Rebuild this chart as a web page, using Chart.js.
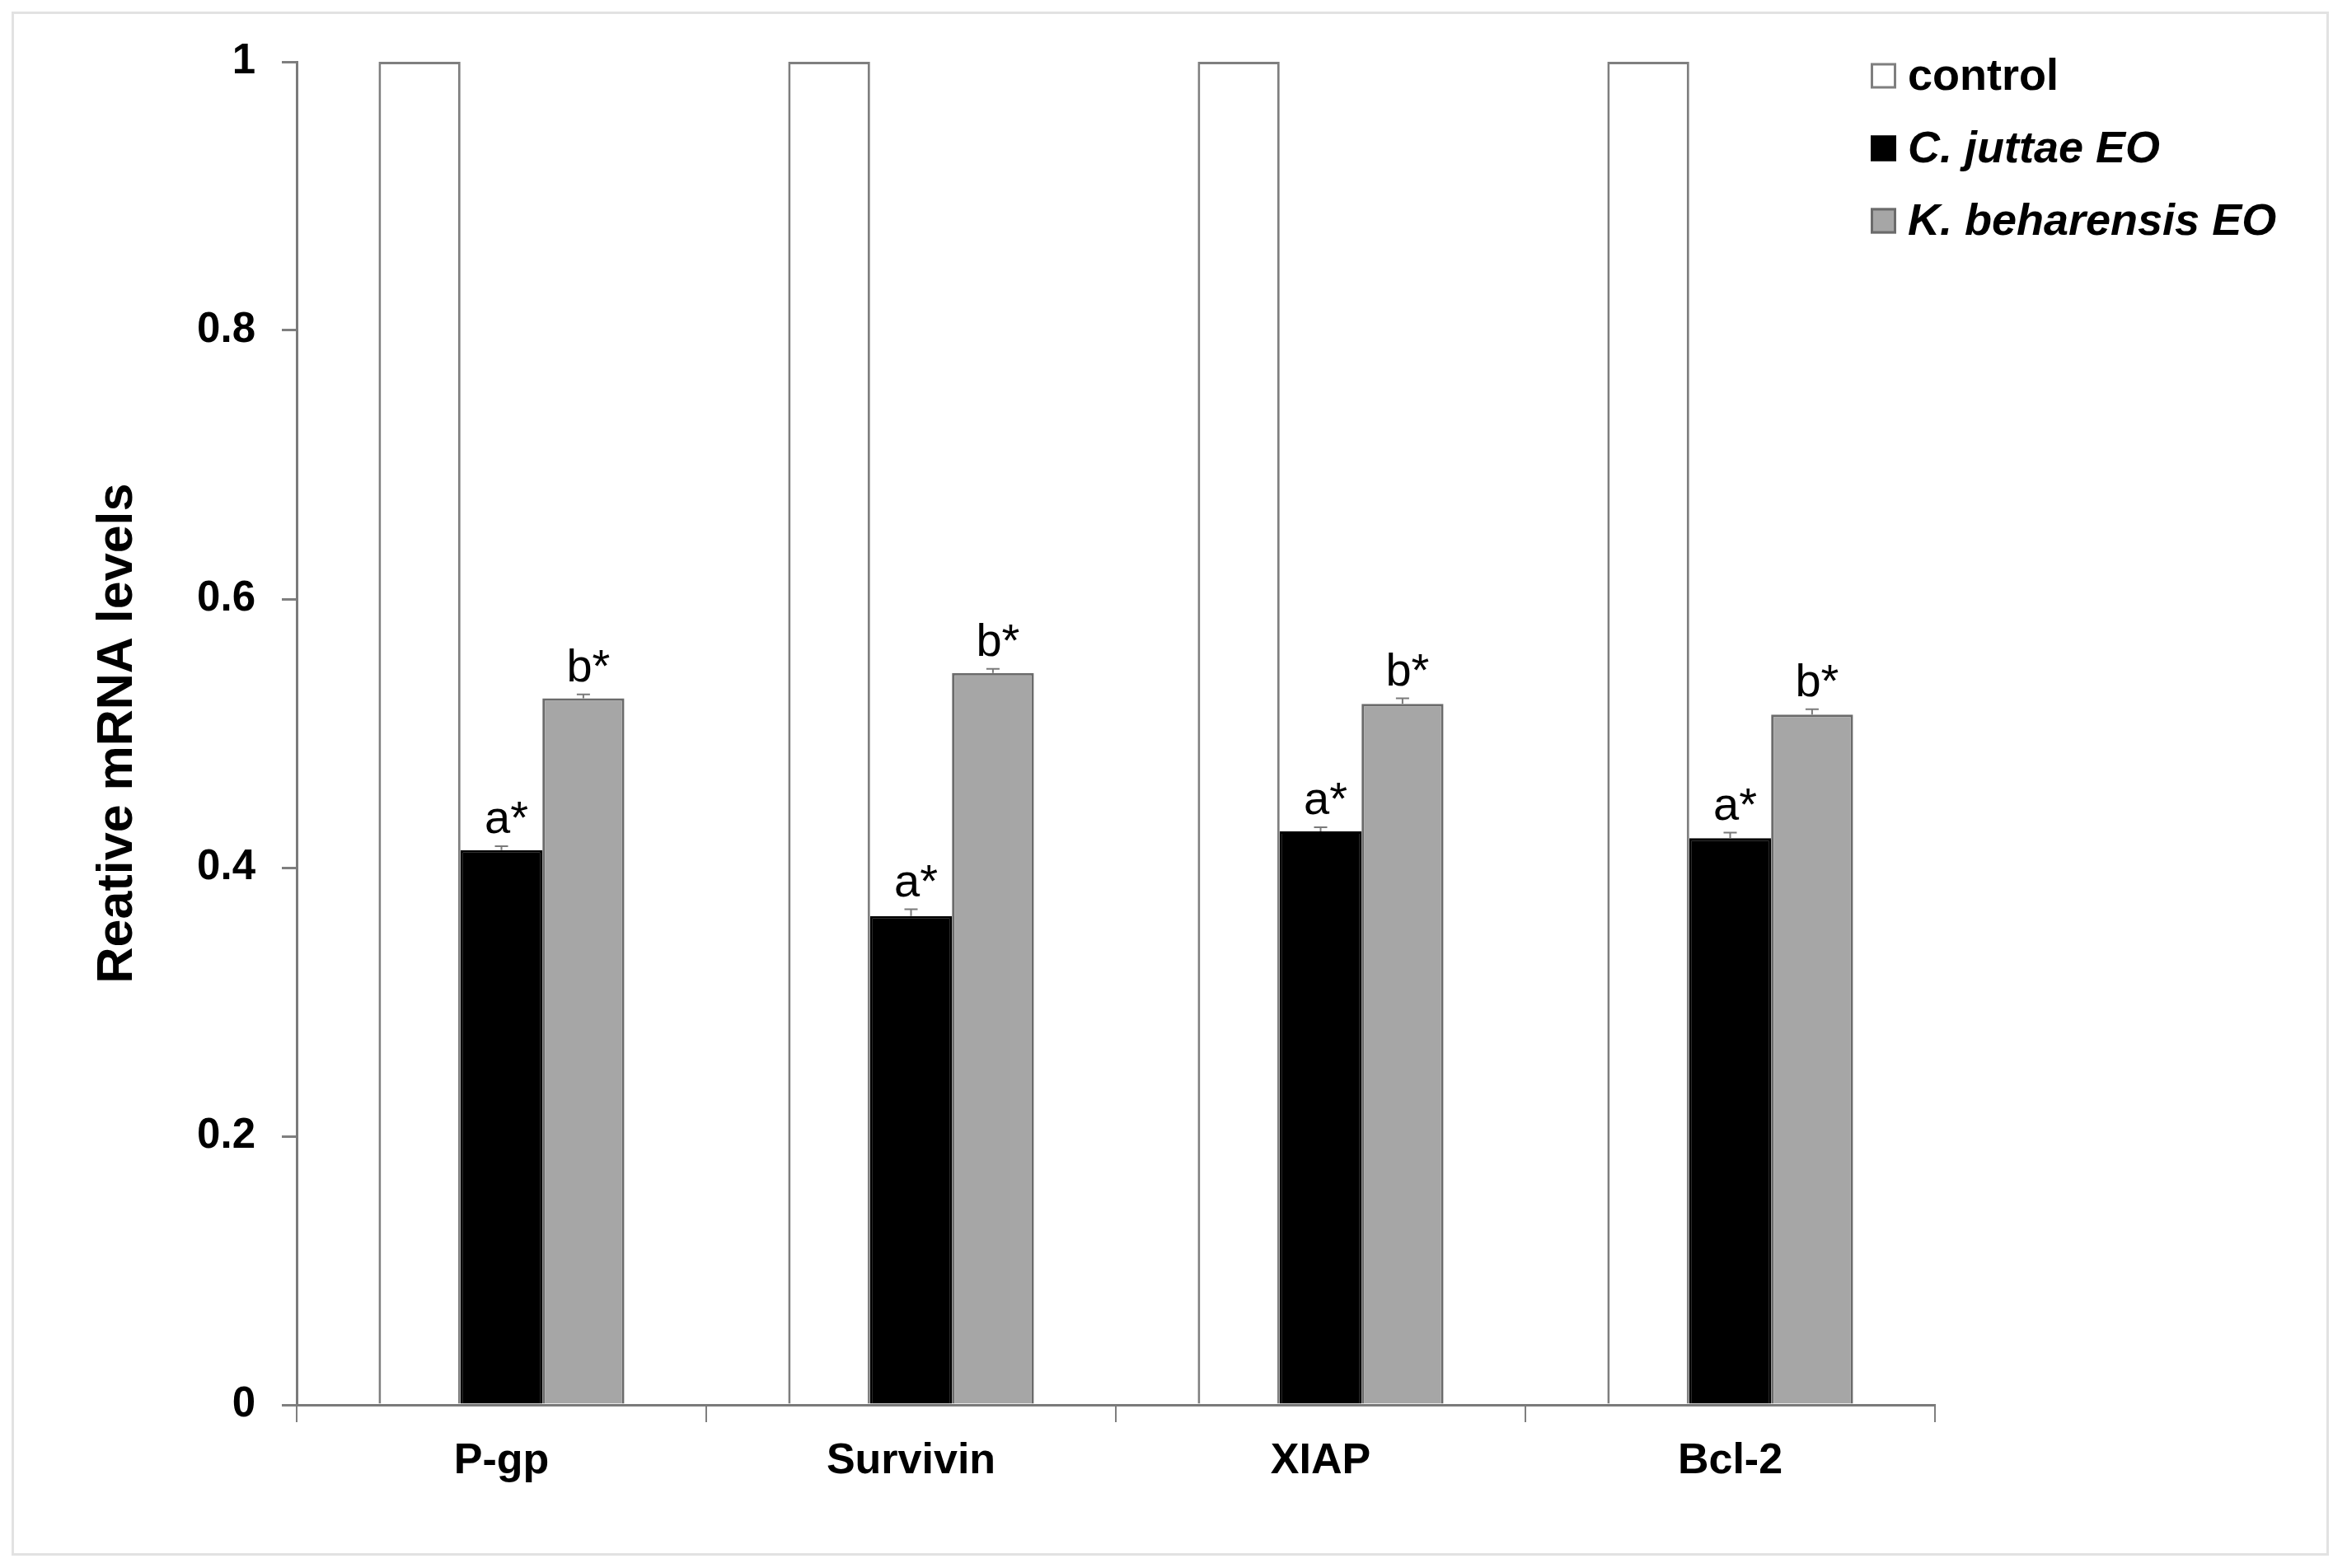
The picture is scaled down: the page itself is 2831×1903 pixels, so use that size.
<!DOCTYPE html>
<html>
<head>
<meta charset="utf-8">
<script src="https://cdn.jsdelivr.net/npm/chart.js@4.4.1/dist/chart.umd.min.js"></script>
<style>
  html, body { margin: 0; padding: 0; background: #fff; }
  #wrap { position: relative; width: 2831px; height: 1903px; }
  #frame { position: absolute; left: 14px; top: 14px; width: 2806px; height: 1868px;
           border: 3px solid #e2e2e2; pointer-events: none; }
</style>
</head>
<body>
<div id="wrap">
  <canvas id="myChart" width="2831" height="1903"></canvas>
  <div id="frame"></div>
</div>
<script>
// chart values
const genes = ['P-gp', 'Survivin', 'XIAP', 'Bcl-2'];
const seriesNames = ['control', 'C. juttae EO', 'K. beharensis EO'];
const control = [1, 1, 1, 1];
const cJuttae = [0.413, 0.364, 0.427, 0.422];
const kBeharensis = [0.526, 0.545, 0.522, 0.514];
const controlErr = [0, 0, 0, 0];
const cJuttaeErr = [0.003, 0.005, 0.003, 0.004];
const kBeharensisErr = [0.003, 0.003, 0.004, 0.004];
const controlMarks = ['', '', '', ''];
const cJuttaeMarks = ['a*', 'a*', 'a*', 'a*'];
const kBeharensisMarks = ['b*', 'b*', 'b*', 'b*'];
const yTicks = [0, 0.2, 0.4, 0.6, 0.8, 1];

const FONT = '"Liberation Sans", Arial, sans-serif';
const errors = [controlErr, cJuttaeErr, kBeharensisErr];
const marks = [controlMarks, cJuttaeMarks, kBeharensisMarks];

// error bars and the a*/b* letters above the bars
const barExtras = {
  id: 'barExtras',
  afterDatasetsDraw(chart) {
    const ctx = chart.ctx;
    const y = chart.scales.y;
    chart.data.datasets.forEach((ds, i) => {
      const meta = chart.getDatasetMeta(i);
      meta.data.forEach((bar, j) => {
        const v = ds.data[j];
        const err = errors[i][j];
        ctx.save();
        if (err > 0) {
          const yTop = y.getPixelForValue(v + err);
          ctx.strokeStyle = '#7a7a7a';
          ctx.lineWidth = 2;
          ctx.beginPath();
          ctx.moveTo(bar.x, bar.y);
          ctx.lineTo(bar.x, yTop);
          ctx.moveTo(bar.x - 8, yTop);
          ctx.lineTo(bar.x + 8, yTop);
          ctx.stroke();
        }
        const m = marks[i][j];
        if (m) {
          ctx.fillStyle = '#000';
          ctx.font = '56px ' + FONT;
          ctx.textAlign = 'center';
          ctx.textBaseline = 'alphabetic';
          ctx.fillText(m, bar.x + 6, y.getPixelForValue(v + err) - 16);
        }
        ctx.restore();
      });
    });
  }
};

// legend drawn by hand so two of the entries can be italic
const sideLegend = {
  id: 'sideLegend',
  afterDraw(chart) {
    const ctx = chart.ctx;
    const x0 = 2270, rowY = [92, 180, 268], box = 31;
    chart.data.datasets.forEach((ds, i) => {
      ctx.save();
      ctx.fillStyle = ds.backgroundColor;
      ctx.strokeStyle = ds.borderColor;
      ctx.lineWidth = 3;
      ctx.fillRect(x0, rowY[i] - box / 2, box, box);
      ctx.strokeRect(x0 + 1.5, rowY[i] - box / 2 + 1.5, box - 3, box - 3);
      ctx.fillStyle = '#000';
      ctx.font = (i === 0 ? '' : 'italic ') + 'bold 54px ' + FONT;
      ctx.textAlign = 'left';
      ctx.textBaseline = 'middle';
      ctx.fillText(ds.label, x0 + 45, rowY[i] + 2);
      ctx.restore();
    });
  }
};

const data = {
  labels: genes,
  datasets: [
    { label: seriesNames[0], data: control, backgroundColor: '#ffffff', borderColor: '#7f7f7f', borderWidth: 3 },
    { label: seriesNames[1], data: cJuttae, backgroundColor: '#000000', borderColor: '#000000', borderWidth: 3 },
    { label: seriesNames[2], data: kBeharensis, backgroundColor: '#a6a6a6', borderColor: '#6b6b6b', borderWidth: 3 }
  ]
};

const config = {
  type: 'bar',
  data: data,
  options: {
    responsive: false,
    animation: false,
    devicePixelRatio: 1,
    layout: { padding: { left: 0, top: 75, right: 483, bottom: 0 } },
    datasets: { bar: { categoryPercentage: 0.6, barPercentage: 1.0 } },
    plugins: { legend: { display: false }, tooltip: { enabled: false } },
    scales: {
      x: {
        offset: true,
        grid: { display: true, offset: true, drawOnChartArea: false, tickLength: 21, color: '#7f7f7f', lineWidth: 2 },
        border: { display: true, color: '#7a7a7a', width: 3 },
        ticks: { color: '#000', padding: 16, font: { family: FONT, size: 52, weight: 'bold' } },
        afterFit(scale) { scale.height = 198; }
      },
      y: {
        min: 0,
        max: 1,
        afterBuildTicks(scale) { scale.ticks = yTicks.map(v => ({ value: v })); },
        grid: { display: true, drawOnChartArea: false, tickLength: 18, color: '#7f7f7f', lineWidth: 3 },
        border: { display: true, color: '#7a7a7a', width: 3 },
        ticks: {
          color: '#000',
          padding: 32,
          font: { family: FONT, size: 51, weight: 'bold' },
          callback: v => String(Number(v.toFixed(1)))
        },
        title: {
          display: true,
          text: 'Reative mRNA levels',
          color: '#000',
          font: { family: FONT, size: 61, weight: 'bold' },
          padding: { top: 107, bottom: 0 }
        },
        afterFit(scale) { scale.width = 360; }
      }
    }
  },
  plugins: [barExtras, sideLegend]
};

const myChart = new Chart(document.getElementById('myChart'), config);
</script>
</body>
</html>
